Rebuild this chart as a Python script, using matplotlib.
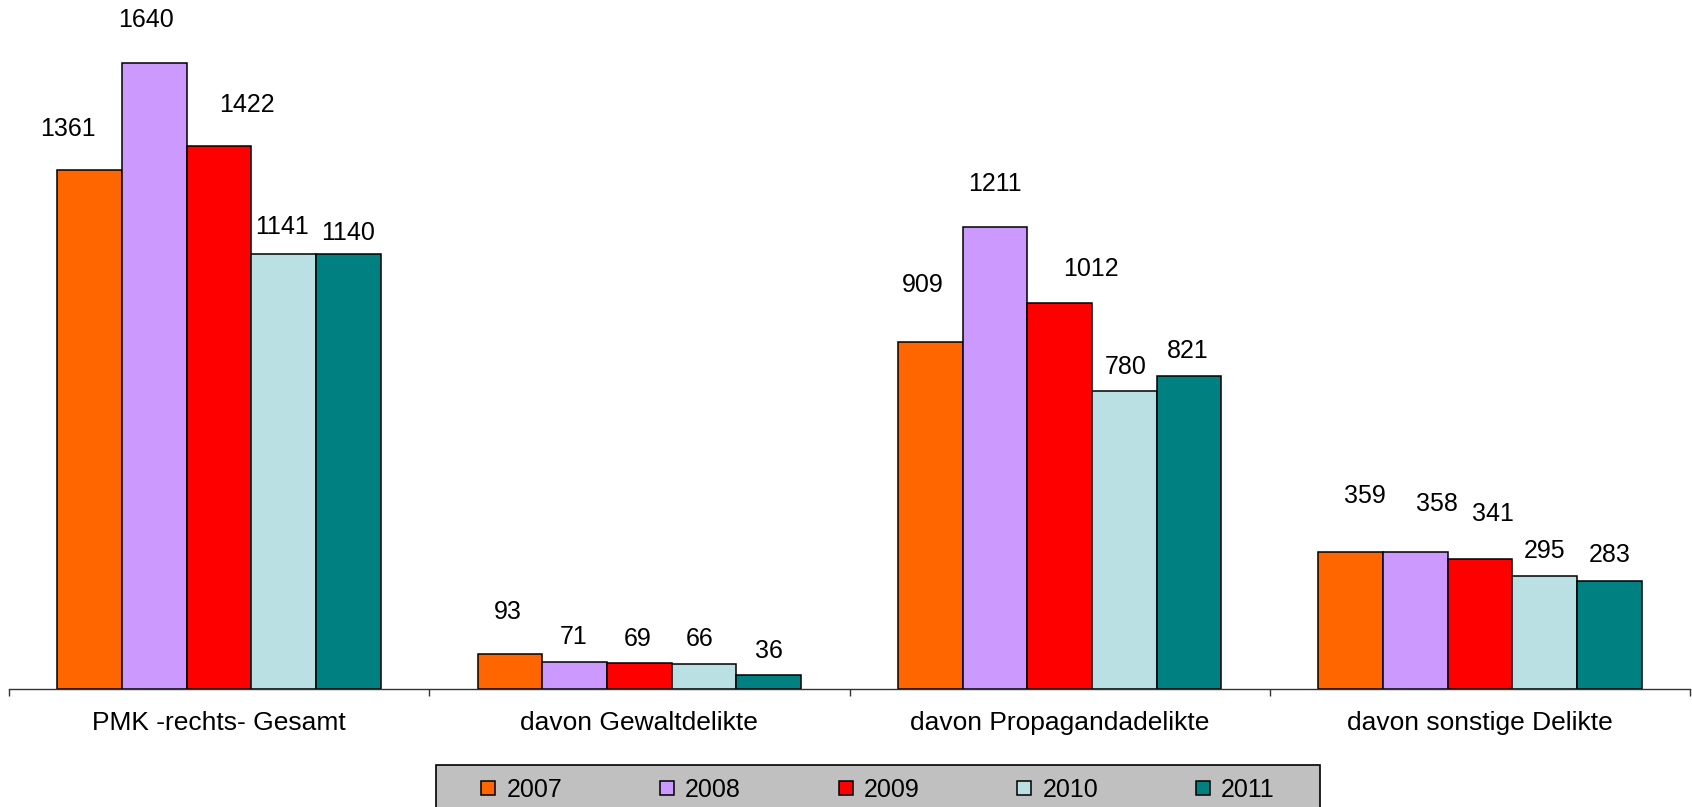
import matplotlib.pyplot as plt
from matplotlib.patches import Rectangle
import numpy as np

plt.rcParams["font.family"] = ["Liberation Sans", "DejaVu Sans"]

# data
categories = ["PMK -rechts- Gesamt", "davon Gewaltdelikte",
              "davon Propagandadelikte", "davon sonstige Delikte"]
years = ["2007", "2008", "2009", "2010", "2011"]
v2007 = [1361, 93, 909, 359]
v2008 = [1640, 71, 1211, 358]
v2009 = [1422, 69, 1012, 341]
v2010 = [1141, 66, 780, 295]
v2011 = [1140, 36, 821, 283]
series = [v2007, v2008, v2009, v2010, v2011]

colors = ["#FF6600", "#CC99FF", "#FF0000", "#BBE0E3", "#008080"]

# label offsets (pixels): dx, dy above bar top, per series / per category
label_dx = [[-22, -2, -7, 14], [-8, -1, 0, 22], [28, -2, 31, 13],
            [-2, -4, 1, 0], [0, 0, -1, 0]]
label_dy = [[41, 42, 57, 56], [43, 25, 43, 48], [41, 24, 34, 45],
            [27, 25, 24, 25], [21, 24, 25, 26]]

W, H = 1692, 807
fig = plt.figure(figsize=(W / 100, H / 100), dpi=100)
ax = fig.add_axes([9 / W, 118 / H, (1690 - 9) / W, 687 / H])

bw = 0.154
x = np.arange(len(categories)) + 0.5
for j, vals in enumerate(series):
    pos = x + (j - 2) * bw
    ax.bar(pos, vals, width=bw, color=colors[j], edgecolor="black",
           linewidth=1.1, label=years[j], zorder=2)
    for i, v in enumerate(vals):
        ax.annotate(str(v), (pos[i], v), xytext=(label_dx[j][i], label_dy[j][i]),
                    textcoords="offset pixels", ha="center", va="center",
                    fontsize=18, color="black")

ax.set_xlim(0, len(categories))
ax.set_ylim(0, 1800)
for s in ["top", "right", "left"]:
    ax.spines[s].set_visible(False)
ax.spines["bottom"].set_color("#333333")
ax.spines["bottom"].set_linewidth(1.0)
ax.set_yticks([])
ax.set_xticks(np.arange(len(categories) + 1))
ax.set_xticklabels([])
ax.tick_params(axis="x", which="major", direction="out", length=5,
               width=1.0, color="#333333")
ax.set_xticks(x, minor=True)
ax.set_xticklabels(categories, minor=True, fontsize=19)
ax.tick_params(axis="x", which="minor", length=0, pad=16)

# legend box
fig.patches.append(Rectangle((436 / W, -3 / H), 884 / W, 45 / H,
                             transform=fig.transFigure, facecolor="#C0C0C0",
                             edgecolor="black", linewidth=1.2, zorder=0))
handles, labels = ax.get_legend_handles_labels()
fig.legend(handles, labels, loc="center", bbox_to_anchor=(878 / W, 17 / H),
           ncol=5, frameon=False, fontsize=18, handlelength=0.56,
           handleheight=0.52, handletextpad=0.45, columnspacing=3.9)

fig.savefig("out.png", dpi=100)
